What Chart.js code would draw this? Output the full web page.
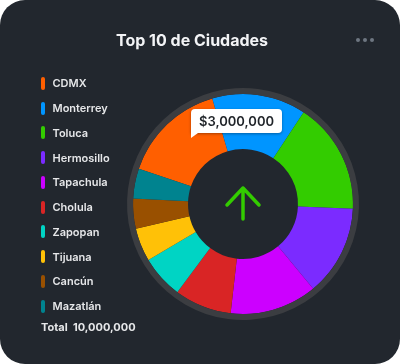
<!DOCTYPE html>
<html>
<head>
<meta charset="utf-8">
<script src="https://cdn.jsdelivr.net/npm/chart.js@4"></script>
<style>
  html, body { margin: 0; padding: 0; background: #fff; }
  #card {
    position: relative; width: 400px; height: 364px; overflow: hidden;
    background: #22272e; border-radius: 25px;
    font-family: Inter, "Noto Sans", sans-serif;
  }
  #chartBox { position: absolute; left: 0; top: 0; width: 400px; height: 364px; }
  #title {
    position: absolute; left: 0; width: 384px; top: 30px; text-align: center;
    color: #f3f4f6; font-size: 16px; font-weight: 700;
  }
  .dot { position: absolute; top: 38px; width: 4px; height: 4px; border-radius: 50%; background: #6e7681; }
  #legend { position: absolute; left: 41px; top: 71px; color: #e6e7e9; font-size: 11px; font-weight: 600; }
  .item { height: 24.75px; display: flex; align-items: center; }
  .bar { width: 3.5px; height: 13px; border-radius: 2px; margin-right: 8px; }
  #total { position: absolute; left: 41px; top: 320px; color: #e6e7e9; font-size: 11px; font-weight: 700; }
  #tip {
    position: absolute; background: #fff; color: #1f2328; font-size: 13px; font-weight: 600;
    height: 24px; line-height: 24px; padding: 0 8px; border-radius: 4px 4px 4px 0;
    box-shadow: 0 1px 3px rgba(0,0,0,0.35); white-space: nowrap;
  }
  #tip::after {
    content: ""; position: absolute; left: 0; top: 24px;
    border-top: 5px solid #fff; border-right: 7px solid transparent;
  }
</style>
</head>
<body>
<div id="card">
  <div id="chartBox"><canvas id="donut"></canvas></div>
  <div id="title">Top 10 de Ciudades</div>
  <span class="dot" style="left:356px"></span>
  <span class="dot" style="left:363px"></span>
  <span class="dot" style="left:370px"></span>
  <div id="legend"></div>
  <div id="total"></div>
  <div id="tip"></div>
</div>
<script>
var ciudades = ['CDMX', 'Monterrey', 'Toluca', 'Hermosillo', 'Tapachula', 'Cholula', 'Zapopan', 'Tijuana', 'Cancún', 'Mazatlán'];
var valores = [1530000, 1380000, 1640000, 1330000, 1280000, 840000, 630000, 490000, 440000, 440000];
var colores = ['#ff5f00', '#0095ff', '#33cc00', '#7b2bff', '#cc00ff', '#d92525', '#00d4c4', '#ffc107', '#995000', '#00838f'];
var valorTooltip = 3000000;

function fmt(n) { return n.toLocaleString('en-US'); }

// Leyenda
var legend = document.getElementById('legend');
ciudades.forEach(function (c, i) {
  var row = document.createElement('div');
  row.className = 'item';
  row.innerHTML = '<span class="bar" style="background:' + colores[i] + '"></span>' + c;
  legend.appendChild(row);
});
var total = valores.reduce(function (a, b) { return a + b; }, 0);
document.getElementById('total').innerHTML = 'Total&nbsp; ' + fmt(total);

// Flecha del centro
var arrowPlugin = {
  id: 'arrow',
  afterDraw: function (chart) {
    var arc = chart.getDatasetMeta(1).data[0];
    var ctx = chart.ctx;
    ctx.save();
    ctx.strokeStyle = '#33cc00';
    ctx.lineWidth = 3.5;
    ctx.lineCap = 'round';
    ctx.lineJoin = 'round';
    ctx.beginPath();
    ctx.moveTo(arc.x, arc.y - 16);
    ctx.lineTo(arc.x, arc.y + 15);
    ctx.moveTo(arc.x - 16, arc.y + 1);
    ctx.lineTo(arc.x, arc.y - 16);
    ctx.lineTo(arc.x + 16, arc.y + 1);
    ctx.stroke();
    ctx.restore();
  }
};

var ctx = document.getElementById('donut').getContext('2d');
var chart = new Chart(ctx, {
  type: 'doughnut',
  data: {
    labels: ciudades,
    datasets: [
      { data: [1], backgroundColor: ['#3b3d41'], borderWidth: 0, weight: 6 },
      { data: valores, backgroundColor: colores, borderWidth: 0, weight: 55 }
    ]
  },
  options: {
    responsive: true,
    maintainAspectRatio: false,
    animation: false,
    events: [],
    rotation: -71.3,
    cutout: '47.4%',
    layout: { padding: { left: 127, right: 41, top: 88, bottom: 44 } },
    plugins: { legend: { display: false }, tooltip: { enabled: false } }
  },
  plugins: [arrowPlugin]
});

// Tooltip fijo sobre CDMX
var pos = chart.getDatasetMeta(1).data[0].tooltipPosition();
var tip = document.getElementById('tip');
tip.textContent = '$' + fmt(valorTooltip);
tip.style.left = (pos.x + 5) + 'px';
tip.style.top = (pos.y - 6 - 29) + 'px';
</script>
</body>
</html>
